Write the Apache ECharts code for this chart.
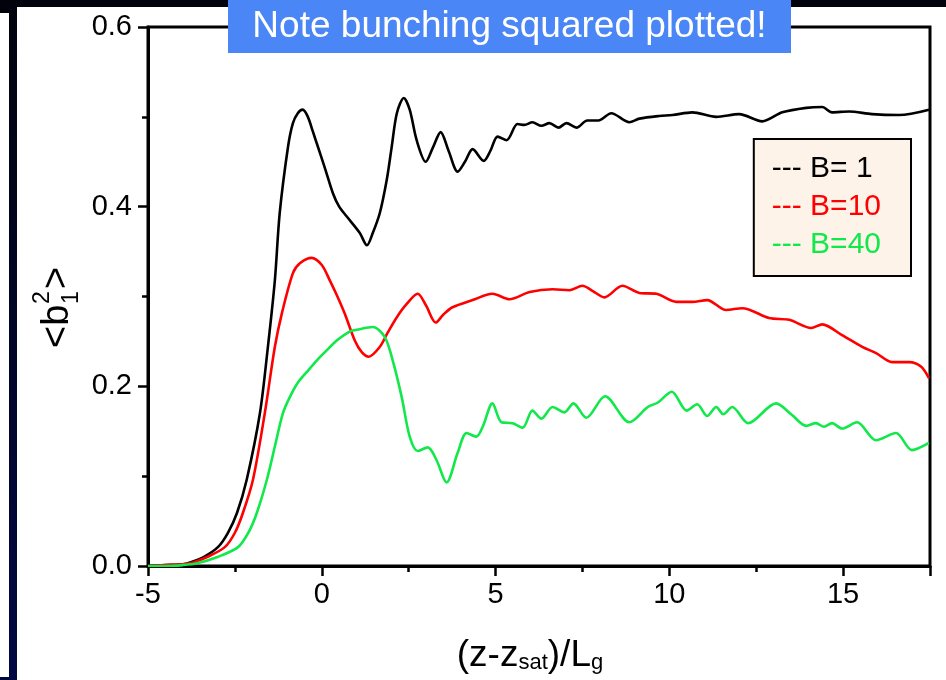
<!DOCTYPE html>
<html>
<head>
<meta charset="utf-8">
<script src="https://cdn.jsdelivr.net/npm/echarts@6/dist/echarts.min.js"></script>
<style>html,body{margin:0;padding:0;background:#fff}#c{width:946px;height:680px}</style>
</head>
<body>
<div id="c"></div>
<script>
// ---- data ----
const seriesNames = ['B= 1', 'B=10', 'B=40'];
const seriesColors = ['#000000', '#ff0000', '#11e84a'];
const xTicks = [-5, 0, 5, 10, 15];
const yTicks = [0.0, 0.2, 0.4, 0.6];

const b1X = [-5,-4.5,-4.0,-3.79,-3.4,-2.99,-2.7,-2.44,-2.16,-1.78,-1.55,-1.35,-1.21,-0.97,-0.83,-0.69,-0.55,-0.40,-0.26,-0.14,0.09,0.32,0.5,0.72,1.09,1.3,1.47,1.67,1.87,2.01,2.16,2.36,2.53,2.73,2.99,3.2,3.42,3.65,3.91,4.12,4.34,4.66,4.85,5.06,5.32,5.63,5.83,6.06,6.32,6.55,6.81,7.04,7.33,7.64,7.96,8.33,8.85,9.14,9.71,10.09,10.66,11.35,12.01,12.67,13.25,13.94,14.4,14.68,15.17,15.83,16.61,17.47];
const b1Y = [0.000,0.001,0.002,0.004,0.010,0.021,0.037,0.059,0.096,0.170,0.244,0.318,0.393,0.467,0.493,0.504,0.508,0.500,0.484,0.470,0.443,0.415,0.400,0.389,0.371,0.357,0.371,0.393,0.430,0.466,0.504,0.521,0.508,0.474,0.450,0.466,0.483,0.462,0.439,0.450,0.464,0.451,0.462,0.478,0.474,0.492,0.491,0.494,0.490,0.493,0.488,0.493,0.488,0.496,0.496,0.504,0.494,0.498,0.501,0.502,0.505,0.500,0.503,0.495,0.505,0.510,0.511,0.505,0.506,0.503,0.502,0.508];

const b10X = [-5,-4.5,-4.0,-3.7,-3.3,-2.79,-2.5,-2.27,-1.98,-1.64,-1.35,-1.15,-0.83,-0.63,-0.29,0.0,0.23,0.45,0.66,0.95,1.15,1.35,1.67,1.9,2.16,2.45,2.76,3.0,3.28,3.5,3.76,4.34,4.91,5.4,5.98,6.64,7.13,7.5,7.8,8.13,8.65,9.14,9.63,10.2,10.66,11.09,11.63,12.1,12.87,13.45,14.08,14.4,14.97,15.55,15.95,16.41,16.9,17.24,17.47];
const b10Y = [0.000,0.001,0.002,0.004,0.010,0.021,0.037,0.059,0.096,0.170,0.244,0.281,0.326,0.337,0.343,0.335,0.318,0.300,0.281,0.251,0.238,0.233,0.244,0.260,0.277,0.292,0.303,0.290,0.271,0.280,0.288,0.296,0.303,0.297,0.305,0.308,0.307,0.312,0.306,0.299,0.312,0.304,0.303,0.294,0.294,0.296,0.285,0.287,0.276,0.274,0.265,0.269,0.257,0.244,0.237,0.227,0.227,0.222,0.209];

const b40X = [-5,-4.5,-4.0,-3.59,-3.0,-2.41,-2.1,-1.87,-1.58,-1.35,-1.12,-0.92,-0.69,-0.43,-0.14,0.14,0.43,0.8,1.01,1.47,1.81,2.04,2.3,2.53,2.76,3.05,3.3,3.59,3.91,4.17,4.45,4.63,4.91,5.17,5.49,5.78,6.06,6.32,6.64,6.98,7.24,7.61,8.15,8.85,9.38,9.67,10.07,10.5,10.8,11.09,11.35,11.55,11.81,12.27,13.07,13.53,13.94,14.22,14.45,14.68,14.97,15.4,15.95,16.52,16.98,17.47];
const b40Y = [0.000,0.000,0.001,0.003,0.010,0.021,0.038,0.059,0.096,0.133,0.170,0.188,0.204,0.216,0.229,0.240,0.251,0.261,0.263,0.266,0.255,0.229,0.188,0.144,0.128,0.132,0.118,0.093,0.126,0.148,0.144,0.155,0.181,0.160,0.159,0.154,0.173,0.164,0.177,0.171,0.181,0.165,0.189,0.160,0.177,0.182,0.194,0.173,0.180,0.167,0.177,0.169,0.177,0.159,0.181,0.168,0.156,0.159,0.155,0.159,0.153,0.160,0.140,0.148,0.129,0.137];

const titleText = 'Note bunching squared plotted!';

// ---- build ----
const pairs = (xs, ys) => xs.map((x, i) => [x, ys[i]]);
const allData = [pairs(b1X, b1Y), pairs(b10X, b10Y), pairs(b40X, b40Y)];
const FONT = 'Arial, "Liberation Sans", sans-serif';

const chart = echarts.init(document.getElementById('c'), null, {renderer: 'canvas'});
chart.setOption({
  backgroundColor: '#ffffff',
  animation: false,
  grid: {left: 148, right: 16, top: 27, bottom: 114, show: true, borderColor: '#000', borderWidth: 3, backgroundColor: 'transparent'},
  xAxis: {
    type: 'value', min: -5, max: 17.5, interval: 5,
    axisLine: {show: true, onZero: false, lineStyle: {color: '#000', width: 3}},
    axisTick: {show: true, length: 10, lineStyle: {color: '#000', width: 2.5}},
    minorTick: {show: true, splitNumber: 2, length: 6, lineStyle: {color: '#000', width: 2.5}},
    splitLine: {show: false},
    axisLabel: {color: '#000', fontSize: 29, fontFamily: FONT, margin: 14,
      formatter: v => (xTicks.indexOf(v) >= 0 ? String(v) : '')},
    name: '(z-z{sub|sat})/L{sub|g}',
    nameLocation: 'middle', nameGap: 71,
    nameTextStyle: {color: '#000', fontSize: 37, fontFamily: FONT, padding: [0, 18, 0, 0],
      rich: {sub: {fontSize: 22, fontFamily: FONT, color: '#000', verticalAlign: 'bottom', padding: [19, 0, 0, 0], lineHeight: 22}}}
  },
  yAxis: {
    type: 'value', min: 0, max: 0.6, interval: 0.2,
    axisLine: {show: true, onZero: false, lineStyle: {color: '#000', width: 3}},
    axisTick: {show: true, length: 10, lineStyle: {color: '#000', width: 2.5}},
    minorTick: {show: true, splitNumber: 2, length: 6, lineStyle: {color: '#000', width: 2.5}},
    splitLine: {show: false},
    axisLabel: {color: '#000', fontSize: 29, fontFamily: FONT, margin: 16,
      formatter: v => {const t = yTicks.find(k => Math.abs(k - v) < 1e-9); return t === undefined ? '' : t.toFixed(1);}}
  },
  legend: {
    orient: 'vertical', right: 35, top: 139,
    backgroundColor: '#fdf3e9', borderColor: '#000', borderWidth: 2, borderRadius: 0,
    padding: [14, 30, 16, 13],
    icon: 'none', itemWidth: 0, itemHeight: 30, itemGap: 7,
    selectedMode: false,
    formatter: n => '--- ' + n,
    textStyle: {fontSize: 30, fontFamily: FONT, lineHeight: 31},
    data: seriesNames.map((n, i) => ({name: n, textStyle: {color: seriesColors[i]}}))
  },
  series: seriesNames.map((n, i) => ({
    name: n, type: 'line', data: allData[i], showSymbol: false, symbol: 'none',
    smooth: 0.3, clip: true,
    lineStyle: {color: seriesColors[i], width: 2.6}, itemStyle: {color: seriesColors[i]}
  })),
  graphic: [
    // dark frame strips
    {type: 'rect', left: 0, top: 0, shape: {width: 946, height: 7}, style: {fill: '#02020c'}, z: 10},
    {type: 'rect', left: 0, top: 0, shape: {width: 9, height: 13}, style: {fill: '#02020c'}, z: 10},
    {type: 'rect', left: 9, top: 0, shape: {width: 8, height: 680},
      style: {fill: new echarts.graphic.LinearGradient(0, 0, 0, 1, [{offset: 0, color: '#02020c'}, {offset: 1, color: '#000844'}])}, z: 10},
    {type: 'rect', left: 0, top: 677, shape: {width: 17, height: 3}, style: {fill: '#000844'}, z: 10},
    // title banner
    {type: 'rect', left: 228, top: 0, shape: {width: 563, height: 53}, style: {fill: '#4a86f6'}, z: 20},
    {type: 'text', x: 509.5, y: 26.5, z: 21,
      style: {text: titleText, fill: '#fff', fontSize: 37, fontFamily: FONT, align: 'center', verticalAlign: 'middle'}},
    // y-axis name <b_1^2>, rotated
    {type: 'group', x: 58, y: 348, rotation: Math.PI / 2, z: 5, children: [
      {type: 'text', x: 0, y: 0, style: {text: '<b', fontSize: 38, fontFamily: FONT, fill: '#000', align: 'left', verticalAlign: 'middle'}},
      {type: 'text', x: 44, y: 14, style: {text: '1', fontSize: 23, fontFamily: FONT, fill: '#000', align: 'left', verticalAlign: 'middle'}},
      {type: 'text', x: 44, y: -15, style: {text: '2', fontSize: 23, fontFamily: FONT, fill: '#000', align: 'left', verticalAlign: 'middle'}},
      {type: 'text', x: 59, y: 0, style: {text: '>', fontSize: 38, fontFamily: FONT, fill: '#000', align: 'left', verticalAlign: 'middle'}}
    ]}
  ]
});
</script>
</body>
</html>
